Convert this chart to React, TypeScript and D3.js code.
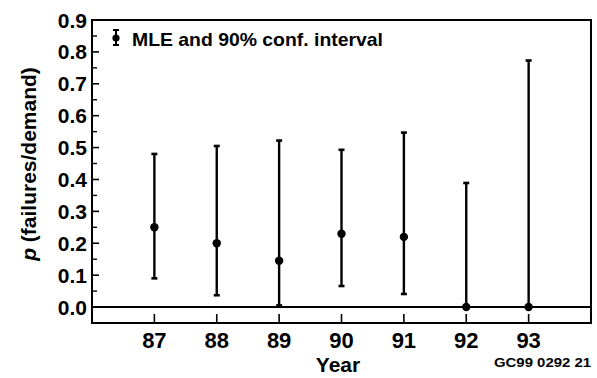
import React from "react";
import * as d3 from "d3";

const years = [87, 88, 89, 90, 91, 92, 93];
const mle = [0.25, 0.2, 0.145, 0.23, 0.22, 0, 0];
const lower = [0.09, 0.037, 0.005, 0.066, 0.041, 0, 0];
const upper = [0.48, 0.505, 0.522, 0.493, 0.547, 0.389, 0.773];
const yTickLabels = ["0.0", "0.1", "0.2", "0.3", "0.4", "0.5", "0.6", "0.7", "0.8", "0.9"];
const legendLabel = "MLE and 90% conf. interval";
const xTitle = "Year";
const footnote = "GC99 0292 21";

const W = 597;
const H = 378;
const M = { left: 92, top: 20, right: 6, bottom: 55 };
const FONT = "'Liberation Sans', Arial, Helvetica, sans-serif";

export default function App() {
  const x = d3.scaleLinear().domain([86, 94]).range([M.left, W - M.right]);
  const y = d3.scaleLinear().domain([-0.05, 0.9]).range([H - M.bottom, M.top]);
  const yMajor = yTickLabels.map((t) => +t);
  const yMinor = d3.range(0, 19).map((i) => i * 0.05).filter((v) => Math.abs(v * 10 - Math.round(v * 10)) > 1e-6);
  const x0 = x.range()[0];
  const x1 = x.range()[1];
  const yB = y(-0.05);
  const yT = y(0.9);
  const cap = 3;

  return (
    <svg width={W} height={H} style={{ position: "absolute", left: 0, top: 0, background: "#fff" }}>
      <rect x={0} y={0} width={W} height={H} fill="#fff" />
      {/* zero line */}
      <line x1={x0} x2={x1} y1={y(0)} y2={y(0)} stroke="#000" strokeWidth={2} />
      {/* y ticks */}
      {yMajor.map((v, i) => (
        <g key={"ym" + i}>
          <line x1={x0} x2={x0 + 7} y1={y(v)} y2={y(v)} stroke="#000" strokeWidth={1.6} />
          <text x={x0 - 5} y={y(v)} dy="0.36em" textAnchor="end" fontFamily={FONT} fontWeight="bold" fontSize={21} fill="#000">
            {yTickLabels[i]}
          </text>
        </g>
      ))}
      {yMinor.map((v, i) => (
        <line key={"yn" + i} x1={x0} x2={x0 + 5} y1={y(v)} y2={y(v)} stroke="#000" strokeWidth={1.4} />
      ))}
      {/* x ticks */}
      {years.map((yr) => (
        <g key={"xt" + yr}>
          <line x1={x(yr)} x2={x(yr)} y1={yB} y2={yB - 9} stroke="#000" strokeWidth={1.6} />
          <text x={x(yr)} y={348} textAnchor="middle" fontFamily={FONT} fontWeight="bold" fontSize={22} fill="#000">
            {String(yr)}
          </text>
        </g>
      ))}
      {/* error bars */}
      {years.map((yr, i) => (
        <g key={"eb" + yr}>
          <line x1={x(yr)} x2={x(yr)} y1={y(lower[i])} y2={y(upper[i])} stroke="#000" strokeWidth={2.4} />
          <line x1={x(yr) - cap} x2={x(yr) + cap} y1={y(upper[i])} y2={y(upper[i])} stroke="#000" strokeWidth={2.6} />
          <line x1={x(yr) - cap} x2={x(yr) + cap} y1={y(lower[i])} y2={y(lower[i])} stroke="#000" strokeWidth={2.6} />
          <circle cx={x(yr)} cy={y(mle[i])} r={4.2} fill="#000" />
        </g>
      ))}
      {/* frame */}
      <rect x={x0} y={yT} width={x1 - x0} height={yB - yT} fill="none" stroke="#000" strokeWidth={2} />
      {/* legend */}
      <g>
        <line x1={116} x2={116} y1={30} y2={45} stroke="#000" strokeWidth={2} />
        <line x1={113} x2={119} y1={30} y2={30} stroke="#000" strokeWidth={2} />
        <line x1={113} x2={119} y1={45} y2={45} stroke="#000" strokeWidth={2} />
        <circle cx={116} cy={38} r={3.6} fill="#000" />
        <text x={132} y={46} fontFamily={FONT} fontWeight="bold" fontSize={18.5} fill="#000" textLength={251} lengthAdjust="spacingAndGlyphs">
          {legendLabel}
        </text>
      </g>
      {/* axis titles */}
      <text x={338} y={372} textAnchor="middle" fontFamily={FONT} fontWeight="bold" fontSize={21} fill="#000">
        {xTitle}
      </text>
      <text transform={`translate(36,${164}) rotate(-90)`} textAnchor="middle" fontFamily={FONT} fontWeight="bold" fontSize={21} fill="#000">
        <tspan fontStyle="italic">p</tspan>
        <tspan> (failures/demand)</tspan>
      </text>
      <text x={494} y={367} fontFamily={FONT} fontWeight="bold" fontSize={12.5} fill="#000" textLength={97} lengthAdjust="spacingAndGlyphs">
        {footnote}
      </text>
    </svg>
  );
}
